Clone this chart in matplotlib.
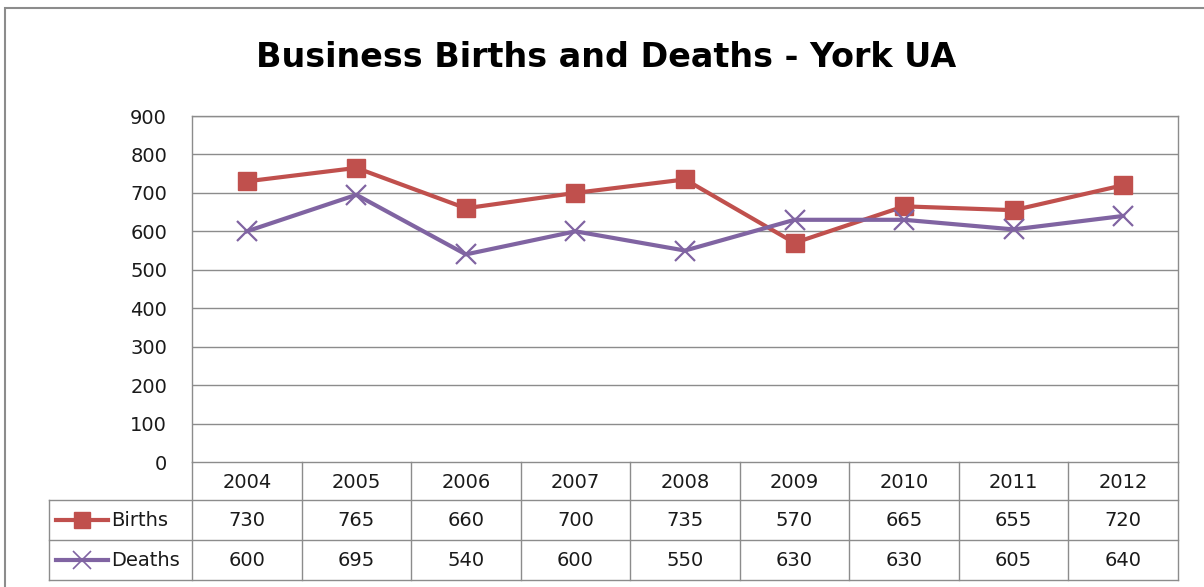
import matplotlib
matplotlib.use("Agg")
import matplotlib.pyplot as plt
from matplotlib.lines import Line2D
from matplotlib.patches import Rectangle

years = ["2004", "2005", "2006", "2007", "2008", "2009", "2010", "2011", "2012"]
births = [730, 765, 660, 700, 735, 570, 665, 655, 720]
deaths = [600, 695, 540, 600, 550, 630, 630, 605, 640]
series_names = ["Births", "Deaths"]
yticks = [0, 100, 200, 300, 400, 500, 600, 700, 800, 900]

W, H = 1204, 587
plt.rcParams['font.family'] = ['DejaVu Sans']
fig = plt.figure(figsize=(W / 100, H / 100), dpi=100)

RED = "#C0504D"
PURPLE = "#8064A2"
GRID = "#8C8C8C"
TXT = "#1a1a1a"
FS = 14

def fx(px):
    return px / W

def fy(py):
    return 1 - py / H

# outer border
fig.patches.append(Rectangle((fx(5), fy(600)), 1.2, fy(8) - fy(600), transform=fig.transFigure,
                             fill=False, edgecolor="#8C8C8C", linewidth=1.5))

L, R, T, B = 192, 1178, 116, 462
ax = fig.add_axes([fx(L), fy(B), fx(R - L), fy(T) - fy(B)])
n = len(years)
xs = list(range(n))
ax.set_xlim(-0.5, n - 0.5)
ax.set_ylim(0, 900)
ax.set_yticks(yticks)
ax.set_yticklabels([str(v) for v in yticks], fontsize=FS, color=TXT)
ax.tick_params(axis='y', length=0, pad=18)
ax.set_xticks([])
for v in yticks[1:]:
    ax.axhline(v, color=GRID, linewidth=1, zorder=1)
for s in ax.spines.values():
    s.set_color(GRID)
    s.set_linewidth(1)

ax.plot(xs, births, color=RED, linewidth=3, marker='s', markersize=13, zorder=3, clip_on=False)
ax.plot(xs, deaths, color=PURPLE, linewidth=3, marker='x', markersize=14, markeredgewidth=1.6, zorder=3, clip_on=False)

fig.text(fx(606), fy(67), "Business Births and Deaths - York UA", ha='center', va='baseline',
         fontsize=24, fontweight='bold', color="black")

# data table
colw = (R - L) / n
row_y = [462, 500, 540, 580]
tl = 49
lkw = dict(color=GRID, linewidth=1, transform=fig.transFigure)
for y in row_y[1:]:
    fig.add_artist(Line2D([fx(tl), fx(R)], [fy(y), fy(y)], **lkw))
fig.add_artist(Line2D([fx(tl), fx(tl)], [fy(row_y[1]), fy(row_y[3])], **lkw))
for i in range(n + 1):
    x = L + i * colw
    fig.add_artist(Line2D([fx(x), fx(x)], [fy(row_y[0]), fy(row_y[3])], **lkw))

for i, yr in enumerate(years):
    cx = L + (i + 0.5) * colw
    fig.text(fx(cx), fy((row_y[0] + row_y[1]) / 2 + 1), yr, ha='center', va='center', fontsize=FS, color=TXT)
    fig.text(fx(cx), fy((row_y[1] + row_y[2]) / 2 + 1), str(births[i]), ha='center', va='center', fontsize=FS, color=TXT)
    fig.text(fx(cx), fy((row_y[2] + row_y[3]) / 2 + 1), str(deaths[i]), ha='center', va='center', fontsize=FS, color=TXT)

# legend keys
for k, (name, col, mk, mew) in enumerate([(series_names[0], RED, 's', 1), (series_names[1], PURPLE, 'x', 1.2)]):
    yc = (row_y[1 + k] + row_y[2 + k]) / 2
    fig.add_artist(Line2D([fx(56), fx(108)], [fy(yc), fy(yc)], color=col, linewidth=3,
                          transform=fig.transFigure))
    fig.add_artist(Line2D([fx(82)], [fy(yc)], color=col, marker=mk, markersize=12 if mk == 's' else 13,
                          markeredgewidth=mew, linestyle='none', transform=fig.transFigure))
    fig.text(fx(111), fy(yc + 1), name, ha='left', va='center', fontsize=FS, color=TXT)

fig.savefig("out.png", dpi=100)
